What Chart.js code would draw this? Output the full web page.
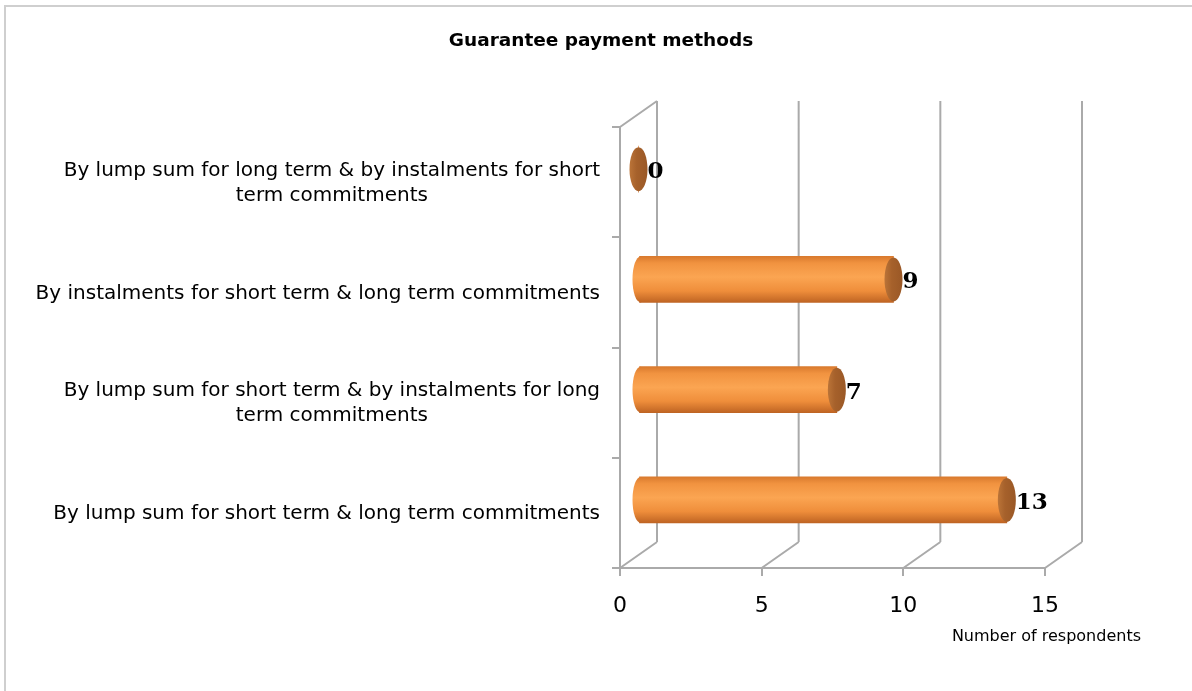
<!DOCTYPE html>
<html>
<head>
<meta charset="utf-8">
<script src="https://cdn.jsdelivr.net/npm/chart.js@4.4.1/dist/chart.umd.min.js"></script>
<style>
  body { margin: 0; background: #fff; overflow: hidden; }
  #frame { position: absolute; left: 4px; top: 5px; width: 1300px; height: 800px; border: 2px solid #cfcfcf; }
  #wrap { position: absolute; left: 0; top: 0; width: 1192px; height: 691px; }
</style>
</head>
<body>
<div id="frame"></div>
<div id="wrap"><canvas id="myChart" width="1192" height="691"></canvas></div>
<script>
  // data
  const categories = [
    ["By lump sum for long term & by instalments for short", "term commitments"],
    ["By instalments for short term & long term commitments"],
    ["By lump sum for short term & by instalments for long", "term commitments"],
    ["By lump sum for short term & long term commitments"]
  ];
  const respondents = [0, 9, 7, 13];
  const xTicks = [0, 5, 10, 15];

  const chartTitle = "Guarantee payment methods";
  const xTitle = "Number of respondents";

  const lineColor = "#aaaaaa";
  const depthX = 37;   // 3d depth of the back wall
  const depthY = -26;
  const barH = 46;

  function barGradient(ctx) {
    const chart = ctx.chart;
    const y = chart.scales && chart.scales.y;
    if (!y || ctx.dataIndex === undefined) return "#f79646";
    const cy = y.getPixelForValue(ctx.dataIndex);
    if (!isFinite(cy)) return "#f79646";
    const g = chart.ctx.createLinearGradient(0, cy - barH / 2, 0, cy + barH / 2);
    g.addColorStop(0, "#d97a2e");
    g.addColorStop(0.15, "#f19340");
    g.addColorStop(0.45, "#fba552");
    g.addColorStop(0.75, "#ef8e3b");
    g.addColorStop(1, "#bf6423");
    return g;
  }

  // back wall, floor and 3d shift of the bars
  const wallPlugin = {
    id: "wall",
    beforeDatasetsDraw(chart) {
      const ctx = chart.ctx;
      const x = chart.scales.x;
      const a = chart.chartArea;
      ctx.save();
      ctx.strokeStyle = lineColor;
      ctx.lineWidth = 2;
      ctx.beginPath();
      xTicks.forEach(v => {
        const px = x.getPixelForValue(v);
        ctx.moveTo(px + depthX, a.top + depthY);
        ctx.lineTo(px + depthX, a.bottom + depthY);
        ctx.moveTo(px, a.bottom);
        ctx.lineTo(px + depthX, a.bottom + depthY);
      });
      ctx.moveTo(a.left, a.top);
      ctx.lineTo(a.left + depthX, a.top + depthY);
      ctx.stroke();
      ctx.restore();
    },
    beforeDatasetDraw(chart) {
      chart.ctx.save();
      chart.ctx.translate(depthX / 2, depthY / 2);
    },
    afterDatasetDraw(chart, args) {
      const ctx = chart.ctx;
      const meta = args.meta;
      meta.data.forEach((bar, i) => {
        const cy = bar.y;
        // rounded start of the cylinder
        ctx.fillStyle = barGradient({ chart: chart, dataIndex: i });
        if (respondents[i] > 0) {
          ctx.beginPath();
          ctx.ellipse(bar.base + 1, cy, 8, barH / 2, 0, 0, Math.PI * 2);
          ctx.fill();
        }
        // end face
        const g = ctx.createLinearGradient(bar.x - 9, 0, bar.x + 9, 0);
        g.addColorStop(0, "#bb7438");
        g.addColorStop(0.4, "#a6612b");
        g.addColorStop(1, "#9a5826");
        ctx.fillStyle = g;
        ctx.beginPath();
        ctx.ellipse(bar.x, cy, 9, barH / 2 - 1, 0, 0, Math.PI * 2);
        ctx.fill();
        // value label
        ctx.fillStyle = "#000";
        ctx.font = "bold 23px 'DejaVu Serif'";
        ctx.textAlign = "left";
        ctx.textBaseline = "middle";
        ctx.fillText(String(respondents[i]), bar.x + 9, cy + 3);
      });
      ctx.restore();
    },
    afterDraw(chart) {
      const ctx = chart.ctx;
      const y = chart.scales.y;
      const a = chart.chartArea;
      ctx.save();
      ctx.fillStyle = "#000";
      ctx.font = "20px 'DejaVu Sans'";
      ctx.textBaseline = "middle";
      ctx.textAlign = "center";
      categories.forEach((lines, i) => {
        const cy = y.getPixelForValue(i) + 1;
        const w = Math.max(...lines.map(l => ctx.measureText(l).width));
        const cx = a.left - 20 - w / 2;
        const lh = 25;
        lines.forEach((l, j) => {
          ctx.fillText(l, cx, cy + (j - (lines.length - 1) / 2) * lh);
        });
      });
      ctx.font = "16px 'DejaVu Sans'";
      ctx.textAlign = "right";
      ctx.fillText(xTitle, a.right + 96, a.bottom + 69);
      ctx.restore();
    }
  };

  const chart = new Chart(document.getElementById("myChart"), {
    type: "bar",
    data: {
      labels: categories,
      datasets: [{
        data: respondents,
        backgroundColor: barGradient,
        borderWidth: 0,
        barThickness: barH,
        clip: false
      }]
    },
    options: {
      indexAxis: "y",
      responsive: false,
      animation: false,
      layout: { padding: { left: 10, right: 0, top: 0, bottom: 0 } },
      plugins: {
        legend: { display: false },
        tooltip: { enabled: false },
        title: {
          display: true,
          text: chartTitle,
          color: "#000",
          font: { family: "DejaVu Sans", size: 18.5, weight: "bold" },
          padding: { top: 30, bottom: 74.8 }
        }
      },
      scales: {
        x: {
          min: 0,
          max: 15,
          afterBuildTicks(scale) { scale.ticks = xTicks.map(v => ({ value: v })); },
          afterFit(scale) { scale.height = 123; },
          ticks: { color: "#000", font: { family: "DejaVu Sans", size: 22 }, padding: 17 },
          grid: { drawOnChartArea: false, tickLength: 8, color: lineColor, lineWidth: 2 },
          border: { display: true, color: lineColor, width: 2 }
        },
        y: {
          afterFit(scale) { scale.width = 610; },
          ticks: { display: false },
          grid: { drawOnChartArea: false, offset: true, tickLength: 8, color: lineColor, lineWidth: 2 },
          border: { display: true, color: lineColor, width: 2 }
        },
        // empty strip on the right that keeps room for the 3d depth and axis title
        yRight: {
          type: "category",
          position: "right",
          afterFit(scale) { scale.width = 147; },
          ticks: { display: false },
          grid: { display: false },
          border: { display: false }
        }
      }
    },
    plugins: [wallPlugin]
  });
</script>
</body>
</html>
